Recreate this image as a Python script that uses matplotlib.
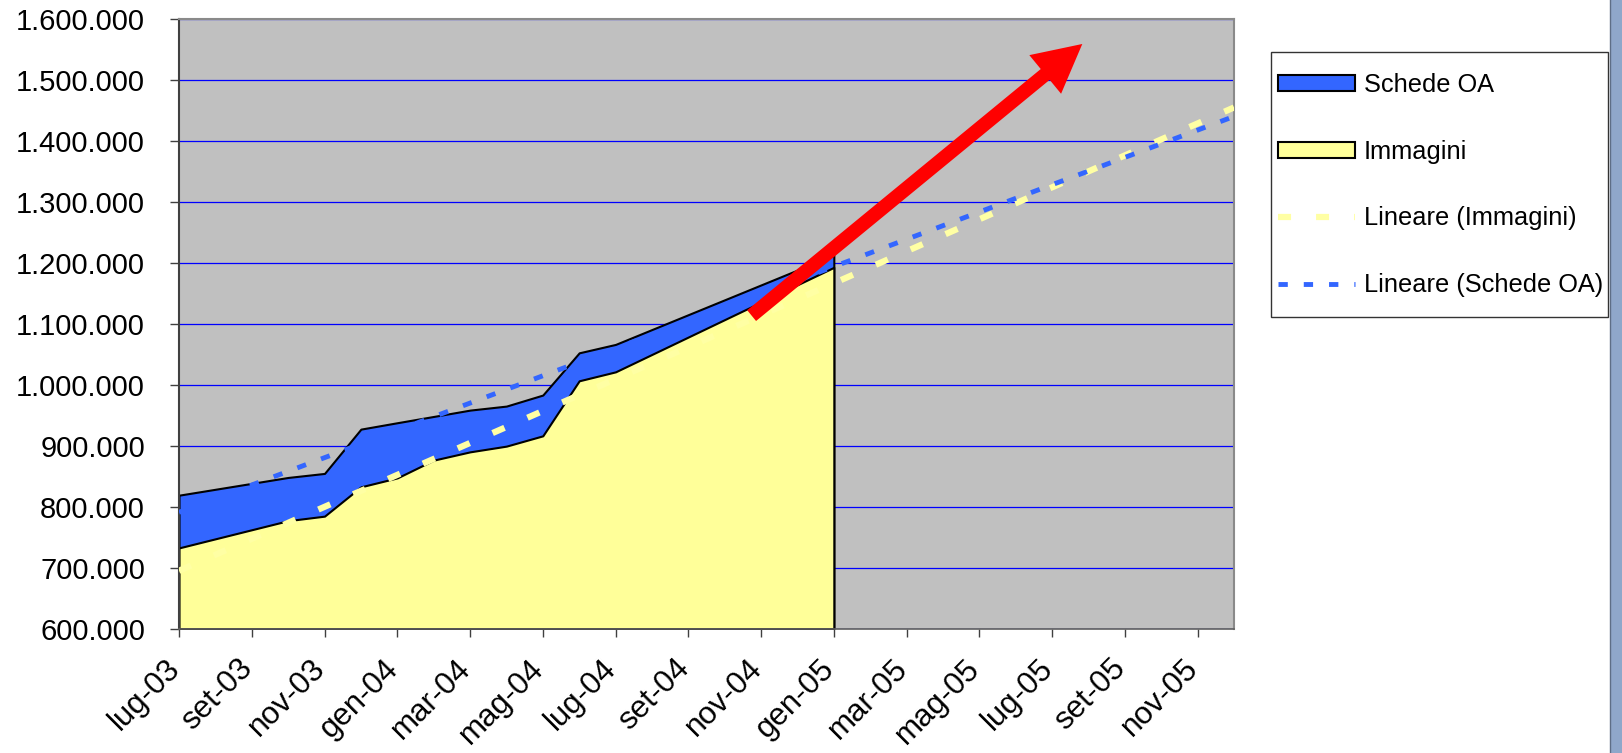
import matplotlib
matplotlib.use('Agg')
import matplotlib.pyplot as plt
import numpy as np
from matplotlib.patches import Rectangle, Patch
from matplotlib.lines import Line2D
from matplotlib.transforms import ScaledTranslation

plt.rcParams['font.family'] = ['Liberation Sans', 'DejaVu Sans']
plt.rcParams['lines.scale_dashes'] = False

# ---- data (x = month index counted from lug-03) ----
months = [0, 3, 4, 5, 6, 7, 8, 9, 10, 11, 12, 18]
schede_oa = [819100, 848200, 854800, 927500, 938000, 948300, 958700,
             965300, 983400, 1052700, 1066500, 1213000]
immagini = [732600, 777300, 784700, 832800, 847500, 876600, 890200,
            899600, 916500, 1006800, 1021500, 1193000]
tick_months = list(range(0, 29, 2))
tick_labels = ['lug-03', 'set-03', 'nov-03', 'gen-04', 'mar-04', 'mag-04',
               'lug-04', 'set-04', 'nov-04', 'gen-05', 'mar-05', 'mag-05',
               'lug-05', 'set-05', 'nov-05']
y_ticks = list(range(600000, 1600001, 100000))
x_end = 29  # dic-05
legend_labels = ['Schede OA', 'Immagini', 'Lineare (Immagini)', 'Lineare (Schede OA)']
arrow_tail = (15.74, 1113800)
arrow_tip = (24.83, 1559500)

# ---- colours ----
BLUE = '#3366FF'
YELLOW = '#FFFF99'
TREND_YELLOW = '#FFFFA4'
GRID = '#0000FF'
BG = '#C0C0C0'

W, H = 1622, 753
fig = plt.figure(figsize=(W / 100, H / 100), dpi=100)
ax = fig.add_axes([179 / W, (H - 628.7) / H, (1234 - 179) / W, (628.7 - 19.3) / H])
ax.set_facecolor(BG)

x = np.array(months, dtype=float)
ys = np.array(schede_oa, dtype=float)
yi = np.array(immagini, dtype=float)

ax.fill_between(x, 600000, ys, facecolor=BLUE, edgecolor='black', linewidth=1.5, zorder=2)
ax.fill_between(x, 600000, yi, facecolor=YELLOW, edgecolor='black', linewidth=1.5, zorder=2.1)

# linear trend lines (least squares), extended to the end of the axis
xt = np.array([0, x_end], dtype=float)
pi = np.polyfit(x, yi, 1)
ps = np.polyfit(x, ys, 1)
ax.plot(xt, np.polyval(pi, xt), color=TREND_YELLOW, lw=4.5, dashes=(9.4, 18),
        dash_capstyle='butt', zorder=3)
ax.plot(xt, np.polyval(ps, xt), color=BLUE, lw=3.5, dashes=(6.7, 11.5),
        dash_capstyle='butt', zorder=3.1)

# red arrow annotation
ax.annotate('', xy=arrow_tip, xytext=arrow_tail, annotation_clip=False,
            arrowprops=dict(arrowstyle='simple,head_length=0.48,head_width=0.5,tail_width=0.14',
                            mutation_scale=72, facecolor='#FF0000', edgecolor='none',
                            linewidth=0, shrinkA=0, shrinkB=0), zorder=5)

ax.set_xlim(0, x_end)
ax.set_ylim(600000, 1600000)
ax.set_yticks(y_ticks)
ax.set_yticklabels(['{:,}'.format(v).replace(',', '.') for v in y_ticks])
ax.yaxis.grid(True, color=GRID, lw=0.9)
ax.set_axisbelow(True)
ax.set_xticks(tick_months)
ax.set_xticklabels(tick_labels, rotation=45, ha='right', va='top')

ax.tick_params(axis='y', length=6.5, width=1, color='#404040', pad=18, labelsize=21)
ax.tick_params(axis='x', length=6, width=1, color='#404040', pad=12, labelsize=22.5)
offset = ScaledTranslation(7 / 100, 0, fig.dpi_scale_trans)
for lab in ax.xaxis.get_majorticklabels():
    lab.set_transform(lab.get_transform() + offset)

ax.spines['left'].set_color('#404040')
ax.spines['left'].set_linewidth(1.5)
ax.spines['bottom'].set_color('#606060')
ax.spines['bottom'].set_linewidth(1.2)
for s in ('top', 'right'):
    ax.spines[s].set_color('#8a8a8a')
    ax.spines[s].set_linewidth(1.5)

# legend box
fig.patches.append(Rectangle((1270.7 / W, 1 - 316.7 / H), (1608.3 - 1270.7) / W,
                             (316.7 - 51.7) / H, transform=fig.transFigure,
                             facecolor='white', edgecolor='#333333', lw=1, zorder=0))
handles = [Patch(facecolor=BLUE, edgecolor='black', lw=1.5),
           Patch(facecolor=YELLOW, edgecolor='black', lw=1.5),
           Line2D([], [], color=TREND_YELLOW, lw=4.5, dashes=(9.4, 18), dash_capstyle='butt'),
           Line2D([], [], color=BLUE, lw=3.5, dashes=(6.7, 11.5), dash_capstyle='butt')]
leg = fig.legend(handles, legend_labels, loc='upper left',
                 bbox_to_anchor=(1277.5 / W, 1 - 73 / H), bbox_transform=fig.transFigure,
                 frameon=False, prop={'size': 18.3}, handlelength=3.03, handleheight=0.6,
                 handletextpad=0.37, labelspacing=1.68, borderpad=0, borderaxespad=0)

# window edge strip at the right
fig.patches.append(Rectangle((1610 / W, 0), 12 / W, 1, transform=fig.transFigure,
                             facecolor='#8FA7CA', edgecolor='none'))
fig.lines.append(Line2D([1610 / W, 1610 / W], [0, 1], transform=fig.transFigure,
                        color='#5E6E86', lw=1))

fig.savefig('out.png', dpi=100)
